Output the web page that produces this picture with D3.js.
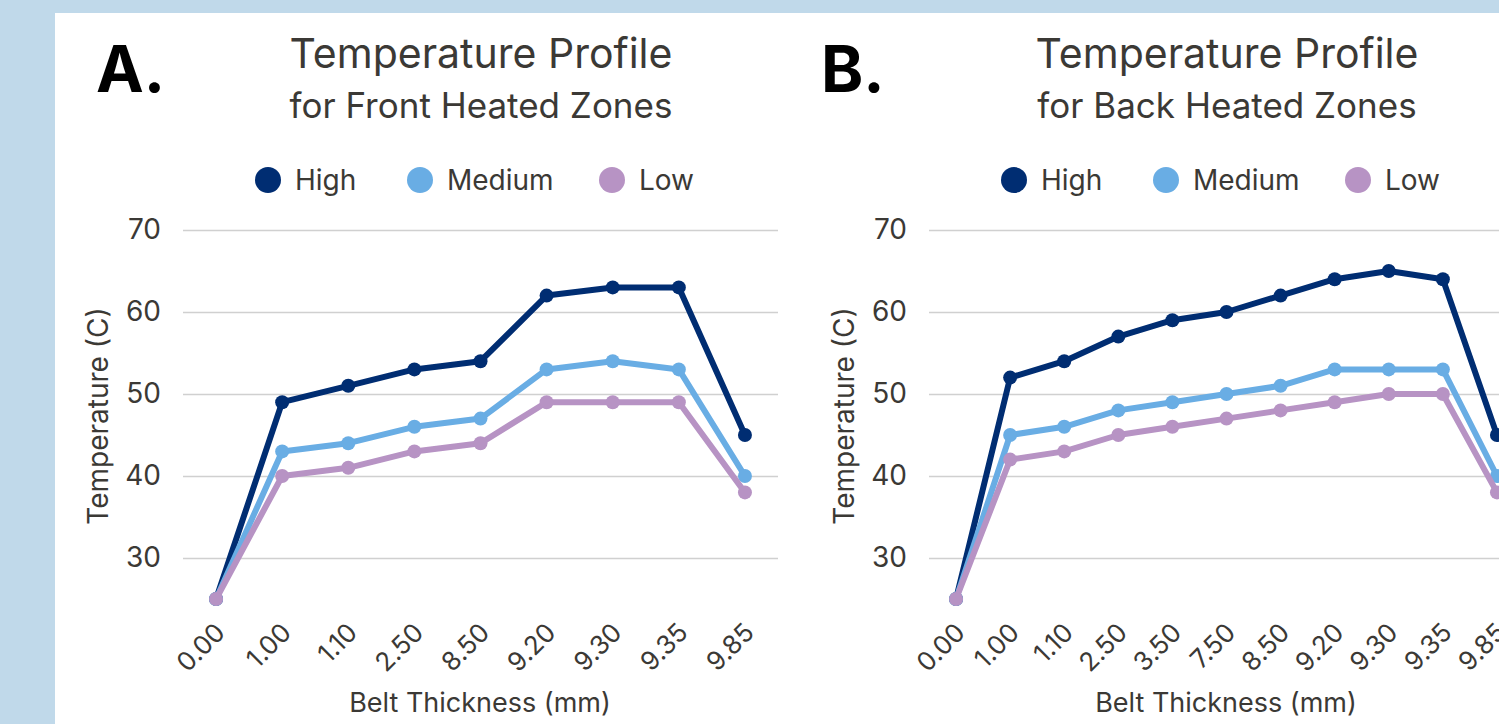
<!DOCTYPE html>
<html>
<head>
<meta charset="utf-8">
<script src="https://cdn.jsdelivr.net/npm/d3@7"></script>
<style>
  html, body { margin: 0; padding: 0; background: #c0d9ea; }
  svg { display: block; font-family: Inter, "Noto Sans", sans-serif; }
</style>
</head>
<body>
<svg id="chart" width="1499" height="724"></svg>
<script>
// categories (belt thickness, mm)
const frontCategories = ['0.00', '1.00', '1.10', '2.50', '8.50', '9.20', '9.30', '9.35', '9.85'];
const backCategories = ['0.00', '1.00', '1.10', '2.50', '3.50', '7.50', '8.50', '9.20', '9.30', '9.35', '9.85'];

// front heated zones
const frontHigh = [25, 49, 51, 53, 54, 62, 63, 63, 45];
const frontMedium = [25, 43, 44, 46, 47, 53, 54, 53, 40];
const frontLow = [25, 40, 41, 43, 44, 49, 49, 49, 38];

// back heated zones
const backHigh = [25, 52, 54, 57, 59, 60, 62, 64, 65, 64, 45];
const backMedium = [25, 45, 46, 48, 49, 50, 51, 53, 53, 53, 40];
const backLow = [25, 42, 43, 45, 46, 47, 48, 49, 50, 50, 38];

const seriesNames = ['High', 'Medium', 'Low'];
const seriesColors = ['#002d72', '#69ade4', '#b793c4'];
const yTicks = [30, 40, 50, 60, 70];

const textColor = '#3b3935';

const svg = d3.select('#chart');

// white card
svg.append('rect')
  .attr('x', 55)
  .attr('y', 13)
  .attr('width', 1499 - 55)
  .attr('height', 724 - 13)
  .attr('fill', '#ffffff');

function drawPanel(offsetX, letter, letterX, subtitle, categories, values) {
  const g = svg.append('g').attr('transform', `translate(${offsetX},0)`);

  const plotLeft = 183, plotRight = 778, plotTop = 230, plotBottom = 599;

  const x = d3.scalePoint()
    .domain(categories)
    .range([plotLeft, plotRight])
    .padding(0.5);

  const y = d3.scaleLinear()
    .domain([25, 70])
    .range([plotBottom, plotTop]);

  // panel letter
  svg.append('text')
    .attr('x', letterX)
    .attr('y', 92)
    .attr('font-size', 64)
    .attr('font-weight', 700)
    .attr('fill', '#000')
    .text(letter);

  // titles
  g.append('text')
    .attr('x', 481)
    .attr('y', 68)
    .attr('text-anchor', 'middle')
    .attr('font-size', 41)
    .attr('fill', textColor)
    .text('Temperature Profile');

  g.append('text')
    .attr('x', 481)
    .attr('y', 118)
    .attr('text-anchor', 'middle')
    .attr('font-size', 35)
    .attr('fill', textColor)
    .text(subtitle);

  // legend
  const legendX = [268, 420, 612];
  seriesNames.forEach((name, i) => {
    g.append('circle')
      .attr('cx', legendX[i])
      .attr('cy', 180)
      .attr('r', 13)
      .attr('fill', seriesColors[i]);
    g.append('text')
      .attr('x', legendX[i] + 27)
      .attr('y', 190)
      .attr('font-size', 28)
      .attr('fill', textColor)
      .text(name);
  });

  // gridlines + y labels
  const yAxis = d3.axisLeft(y)
    .tickValues(yTicks)
    .tickSize(-(plotRight - plotLeft))
    .tickPadding(22)
    .tickFormat(d3.format('d'));

  const yg = g.append('g')
    .attr('transform', `translate(${plotLeft},0)`)
    .call(yAxis);
  yg.select('.domain').remove();
  yg.selectAll('.tick line').attr('stroke', '#d0d0d0').attr('stroke-width', 1.5);
  yg.selectAll('.tick text')
    .attr('font-size', 28)
    .attr('font-family', 'Inter, sans-serif')
    .attr('fill', textColor);

  // x labels
  const xAxis = d3.axisBottom(x).tickSize(0);
  const xg = g.append('g')
    .attr('transform', `translate(0,${plotBottom})`)
    .call(xAxis);
  xg.select('.domain').remove();
  xg.selectAll('.tick text')
    .attr('font-size', 26)
    .attr('font-family', 'Inter, sans-serif')
    .attr('fill', textColor)
    .attr('text-anchor', 'end')
    .attr('dy', 0)
    .attr('transform', 'translate(8,33) rotate(-45)');

  // axis titles
  g.append('text')
    .attr('transform', 'translate(108,416) rotate(-90)')
    .attr('text-anchor', 'middle')
    .attr('font-size', 28)
    .attr('fill', textColor)
    .text('Temperature (C)');

  g.append('text')
    .attr('x', 480)
    .attr('y', 712)
    .attr('text-anchor', 'middle')
    .attr('font-size', 27)
    .attr('fill', textColor)
    .text('Belt Thickness (mm)');

  // lines + markers
  const line = d3.line()
    .x((d, i) => x(categories[i]))
    .y(d => y(d));

  values.forEach((vals, s) => {
    g.append('path')
      .datum(vals)
      .attr('d', line)
      .attr('fill', 'none')
      .attr('stroke', seriesColors[s])
      .attr('stroke-width', 6)
      .attr('stroke-linejoin', 'round');

    g.append('g')
      .selectAll('circle')
      .data(vals)
      .join('circle')
      .attr('cx', (d, i) => x(categories[i]))
      .attr('cy', d => y(d))
      .attr('r', 7)
      .attr('fill', seriesColors[s]);
  });
}

drawPanel(0, 'A.', 96, 'for Front Heated Zones', frontCategories, [frontHigh, frontMedium, frontLow]);
drawPanel(746, 'B.', 821, 'for Back Heated Zones', backCategories, [backHigh, backMedium, backLow]);
</script>
</body>
</html>
